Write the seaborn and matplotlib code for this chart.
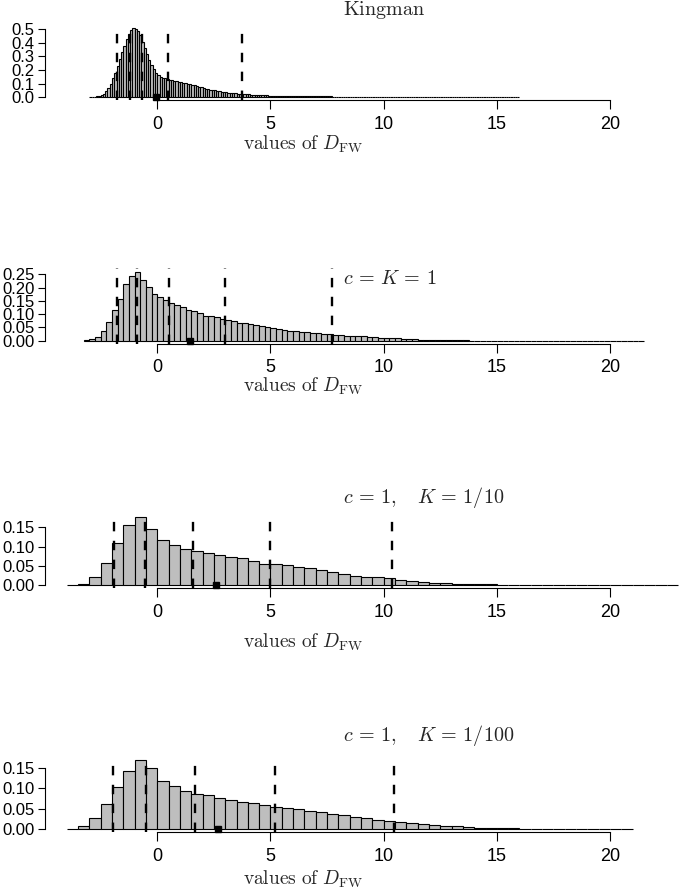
import numpy as np
import pandas as pd
import matplotlib
matplotlib.use("Agg")
import matplotlib.pyplot as plt
import seaborn as sns

sns.set_theme(style="ticks")
plt.rcParams["font.family"] = ["Liberation Sans", "DejaVu Sans"]
plt.rcParams["mathtext.fontset"] = "cm"

# --- data (densities per bin) -----------------------------------------------

# Kingman : bins of width 0.1 starting at -3.0
kingman_start, kingman_width = -3.0, 0.1
kingman_density = [
    0.001, 0.002, 0.004, 0.007, 0.011, 0.017, 0.027, 0.043, 0.066, 0.100,
    0.140, 0.180, 0.230, 0.280, 0.330, 0.380, 0.425, 0.465, 0.492, 0.507,
    0.505, 0.485, 0.455, 0.410, 0.362, 0.315, 0.273, 0.237, 0.205, 0.180,
    0.162, 0.152, 0.145, 0.139, 0.134, 0.129, 0.125, 0.121, 0.118, 0.115,
    0.111, 0.107, 0.103, 0.099, 0.095, 0.091, 0.087, 0.083, 0.079, 0.075,
    0.068, 0.064, 0.060, 0.056, 0.053, 0.050, 0.047, 0.044, 0.041, 0.038,
    0.036, 0.034, 0.032, 0.030, 0.029, 0.027, 0.025, 0.024, 0.023, 0.022,
    0.021, 0.020, 0.019, 0.018, 0.017, 0.016, 0.015, 0.014, 0.014, 0.013,
    0.012, 0.012, 0.011, 0.011, 0.010, 0.010, 0.010, 0.009, 0.009, 0.009,
    0.009, 0.008, 0.008, 0.008, 0.008, 0.007, 0.007, 0.007, 0.007, 0.006,
    0.006, 0.006, 0.006, 0.006, 0.006, 0.006, 0.006, 0.005, 0.005, 0.005,
    0.005, 0.005, 0.005, 0.005, 0.005, 0.005, 0.005, 0.005, 0.005, 0.005,
    0.004, 0.004, 0.004, 0.004, 0.004, 0.004, 0.004, 0.004, 0.004, 0.004,
    0.003, 0.003, 0.003, 0.003, 0.003, 0.003, 0.003, 0.003, 0.003, 0.003,
    0.002, 0.002, 0.002, 0.002, 0.002, 0.002, 0.002, 0.002, 0.002, 0.002,
    0.0015, 0.0015, 0.0015, 0.0015, 0.0015, 0.0015, 0.0015, 0.0015, 0.0015, 0.0015,
    0.001, 0.001, 0.001, 0.001, 0.001, 0.001, 0.001, 0.001, 0.001, 0.001,
    0.0008, 0.0008, 0.0008, 0.0008, 0.0008, 0.0008, 0.0008, 0.0008, 0.0008, 0.0008,
    0.0005, 0.0005, 0.0005, 0.0005, 0.0005, 0.0005, 0.0005, 0.0005, 0.0005, 0.0005,
]
kingman_lines = [-1.79, -1.21, -0.66, 0.46, 3.73]
kingman_mean = -0.07

# c = K = 1 : bins of width 0.25 starting at -3.25
ck1_start, ck1_width = -3.25, 0.25
ck1_density = [
    0.001, 0.0075, 0.015, 0.038, 0.069, 0.114, 0.158, 0.213, 0.245, 0.260,
    0.228, 0.203, 0.176,
    0.163, 0.153, 0.141, 0.134, 0.125, 0.115, 0.112, 0.105, 0.094, 0.093,
    0.089, 0.083, 0.079, 0.073, 0.068, 0.065, 0.064, 0.058, 0.055, 0.050,
    0.048, 0.044, 0.040, 0.038, 0.036, 0.034, 0.033, 0.030, 0.028, 0.025,
    0.024, 0.021,
    0.020, 0.019, 0.018, 0.017, 0.016, 0.015, 0.013, 0.012, 0.011, 0.010,
    0.009, 0.007, 0.006, 0.005, 0.004, 0.003,
    0.0025, 0.002, 0.002, 0.0015, 0.0012, 0.001, 0.0008, 0.0006,
    0.0005, 0.0004, 0.0003, 0.0003, 0.0002, 0.0002, 0.0001, 0.0001,
    0, 0, 0, 0, 0, 0, 0, 0, 0, 0, 0, 0, 0, 0, 0, 0, 0, 0, 0, 0, 0, 0,
]
ck1_lines = [-1.78, -0.88, 0.5, 2.98, 7.7]
ck1_mean = 1.43

# c = 1, K = 1/10 : bins of width 0.5 starting at -4
k10_start, k10_width = -4.0, 0.5
k10_density = [
    0.0, 0.003, 0.020, 0.057, 0.108, 0.157, 0.178, 0.146,
    0.118, 0.104, 0.093, 0.088, 0.082, 0.077, 0.072, 0.069,
    0.063, 0.055, 0.054, 0.051, 0.047, 0.043, 0.038, 0.033,
    0.029, 0.023, 0.021, 0.020, 0.018, 0.014, 0.010, 0.008,
    0.006, 0.005, 0.003, 0.003, 0.002, 0.0015, 0.001, 0.0008,
    0.0005, 0.0003, 0.0002, 0.0001, 0, 0, 0, 0, 0, 0, 0, 0, 0, 0,
]
k10_lines = [-1.89, -0.56, 1.56, 4.97, 10.38]
k10_mean = 2.6

# c = 1, K = 1/100 : bins of width 0.5 starting at -4
k100_start, k100_width = -4.0, 0.5
k100_density = [
    0.0, 0.008, 0.028, 0.061, 0.102, 0.141, 0.169, 0.148,
    0.118, 0.105, 0.093, 0.086, 0.083, 0.075, 0.071, 0.067,
    0.065, 0.058, 0.055, 0.053, 0.049, 0.045, 0.041, 0.036,
    0.034, 0.031, 0.027, 0.023, 0.021, 0.018, 0.015, 0.012,
    0.010, 0.009, 0.007, 0.005, 0.004, 0.003, 0.0025, 0.002,
    0.0015, 0.001, 0.0007, 0.0005, 0.0003, 0.0002, 0.0001, 0, 0, 0,
]
k100_lines = [-1.95, -0.5, 1.65, 5.18, 10.46]
k100_mean = 2.68

titles = [r"$\mathrm{Kingman}$", r"$c\,=\,K\,=\,1$",
          r"$c\,=\,1,\quad K\,=\,1/10$", r"$c\,=\,1,\quad K\,=\,1/100$"]
x_ticks = [0, 5, 10, 15, 20]
y_ticks = [
    [0.0, 0.1, 0.2, 0.3, 0.4, 0.5],
    [0.00, 0.05, 0.10, 0.15, 0.20, 0.25],
    [0.00, 0.05, 0.10, 0.15],
    [0.00, 0.05, 0.10, 0.15],
]
y_fmt = ["%.1f", "%.2f", "%.2f", "%.2f"]

# --- layout (pixels in the 680x889 picture) ---------------------------------
W, H = 680, 889
LEFT = 45
XLIM = (-4.96, 23.09)
layout = [
    # ylim, top px, bottom px, title y, xlabel y
    dict(ylim=(-0.02, 0.53), top=25.2, bottom=100.0, ty=10, ly=144),
    dict(ylim=(-0.0105, 0.2725), top=268.3, bottom=343.5, ty=279, ly=386),
    dict(ylim=(-0.0071, 0.185), top=513.9, bottom=587.7, ty=498, ly=642),
    dict(ylim=(-0.0068, 0.1758), top=757.0, bottom=832.1, ty=735, ly=879),
]

panels = [
    (kingman_start, kingman_width, kingman_density, kingman_lines, kingman_mean),
    (ck1_start, ck1_width, ck1_density, ck1_lines, ck1_mean),
    (k10_start, k10_width, k10_density, k10_lines, k10_mean),
    (k100_start, k100_width, k100_density, k100_lines, k100_mean),
]

fig = plt.figure(figsize=(W / 100, H / 100), dpi=100)

for i, (start, width, dens, lines, mean) in enumerate(panels):
    lay = layout[i]
    rect = [LEFT / W, 1 - lay["bottom"] / H, (W - LEFT) / W,
            (lay["bottom"] - lay["top"]) / H]
    ax = fig.add_axes(rect)

    edges = start + width * np.arange(len(dens) + 1)
    df = pd.DataFrame({"center": edges[:-1] + width / 2, "density": dens})
    sns.histplot(data=df, x="center", weights="density", bins=edges.tolist(),
                 stat="count", color="#bebebe", edgecolor="black",
                 linewidth=0.8, alpha=1, ax=ax, zorder=2)

    for q in lines:
        ax.axvline(q, color="black", lw=1.7, ls=(0, (4, 4)), zorder=3)
    ax.plot([mean], [0], marker="s", color="black", ms=5, ls="none",
            zorder=4, clip_on=False)

    ax.set_xlim(XLIM)
    ax.set_ylim(lay["ylim"])
    ax.set_xticks(x_ticks)
    ax.set_xticklabels([str(t) for t in x_ticks], fontsize=13)
    ax.set_yticks(y_ticks[i])
    ax.set_yticklabels([y_fmt[i] % t for t in y_ticks[i]], fontsize=12)
    ax.tick_params(axis="x", length=6.5, width=0.8, pad=5, colors="black")
    ax.tick_params(axis="y", length=5, width=0.8, pad=2.5, colors="black")

    for s in ["top", "right"]:
        ax.spines[s].set_visible(False)
    ax.spines["bottom"].set_bounds(x_ticks[0], x_ticks[-1])
    ax.spines["left"].set_bounds(y_ticks[i][0], y_ticks[i][-1])
    for s in ["bottom", "left"]:
        ax.spines[s].set_color("black")
        ax.spines[s].set_linewidth(0.8)

    ax.set_ylabel("")
    ax.set_xlabel("")
    fig.text(303 / W, 1 - lay["ly"] / H, r"$\mathrm{values\ of\ }D_{\mathrm{FW}}$",
             ha="center", va="center", fontsize=14)
    fig.text(343 / W, 1 - lay["ty"] / H, titles[i],
             ha="left", va="center", fontsize=14.5)

fig.savefig("out.png", dpi=100)
